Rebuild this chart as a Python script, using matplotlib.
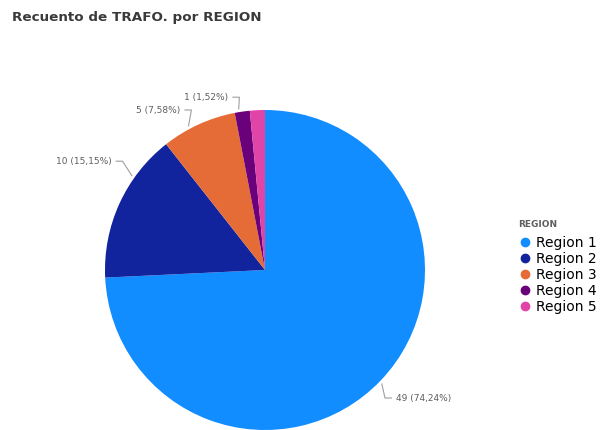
import numpy as np
import matplotlib.pyplot as plt
from matplotlib.lines import Line2D

# recuento de transformadores por region
regions = ["Region 1", "Region 2", "Region 3", "Region 4", "Region 5"]
counts = [49, 10, 5, 1, 1]
colors = ["#118DFF", "#12239E", "#E66C37", "#6B007B", "#E044A7"]

# which wedges get a data label, and where the label text sits (axes data units)
labelled = [0, 1, 2, 3]
label_pos = {0: (0.82, -0.80), 1: (-0.96, 0.68), 2: (-0.53, 1.00), 3: (-0.23, 1.08)}

plt.rcParams['font.family'] = ['DejaVu Sans']

fig = plt.figure(figsize=(6.03, 4.30), dpi=100)
fig.text(12/603, 1 - 18/430, "Recuento de TRAFO. por REGION", fontsize=9.7,
         color="#3b3a39", fontweight="semibold", va="center", ha="left")

ax = fig.add_axes([105/603, 0, 320/603, 320/430])
ax.pie(counts, colors=colors, startangle=90, counterclock=False, radius=1.0,
       wedgeprops=dict(linewidth=0))
ax.set_xlim(-1, 1)
ax.set_ylim(-1, 1)
ax.set_aspect("equal")
ax.axis("off")

total = sum(counts)
cum = np.cumsum([0] + counts)
for i in labelled:
    # wedge spans from a0 down to a1 (clockwise), in degrees
    a0 = 90 - cum[i] / total * 360
    a1 = 90 - cum[i + 1] / total * 360
    margin = 0.3 * (a0 - a1)
    tx, ty = label_pos[i]
    la = np.degrees(np.arctan2(ty, tx))
    # pick the angle inside the wedge that faces the label
    cands = [la, la - 360, la + 360]
    la = min(cands, key=lambda a: abs(a - (a0 + a1) / 2))
    ang = np.deg2rad(np.clip(la, a1 + margin, a0 - margin))
    ex, ey = 1.02 * np.cos(ang), 1.02 * np.sin(ang)
    side = 1 if tx > 0 else -1
    elbow_x = tx - side * 0.03
    ax.plot([ex, elbow_x - side * 0.04, elbow_x], [ey, ty, ty], color="#a19f9d",
            lw=0.8, clip_on=False)
    pct = counts[i] / total * 100
    txt = f"{counts[i]} ({pct:.2f}%)".replace(".", ",")
    ax.text(tx, ty, txt, fontsize=6.5, color="#605e5c", va="center",
            ha="left" if side > 0 else "right", clip_on=False)

handles = [Line2D([0], [0], marker="o", linestyle="", markersize=6,
                  markerfacecolor=c, markeredgecolor=c) for c in colors]
leg = fig.legend(handles, regions, loc="upper left",
                 bbox_to_anchor=(508/603, 1 - 210/430), frameon=False,
                 title="REGION", fontsize=10, labelspacing=0.15,
                 handletextpad=0.3, handlelength=1.0, borderpad=0.2,
                 alignment="left")
leg._legend_box.sep = 5
leg.get_title().set_fontsize(6.5)
leg.get_title().set_fontweight("bold")
leg.get_title().set_color("#605e5c")

fig.savefig("out.png", dpi=100)
